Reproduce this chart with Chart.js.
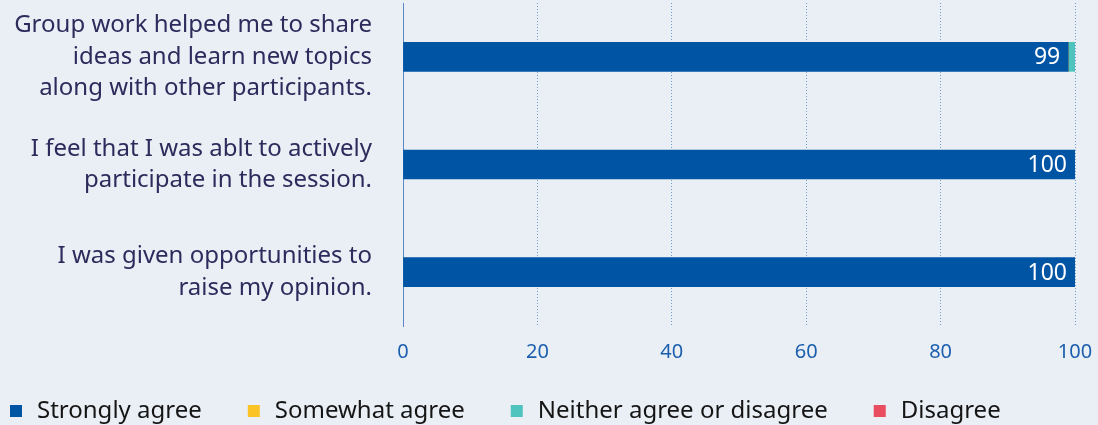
<!DOCTYPE html>
<html>
<head>
<meta charset="utf-8">
<script src="https://cdn.jsdelivr.net/npm/chart.js@4/dist/chart.umd.min.js"></script>
<style>
  html, body { margin: 0; padding: 0; background: #eaeff5; }
  #wrap { width: 1098px; height: 425px; }
</style>
</head>
<body>
<div id="wrap"><canvas id="surveyChart" width="1098" height="425"></canvas></div>
<script>
// Survey statements (one bar each)
const statements = [
    ['Group work helped me to share', 'ideas and learn new topics', 'along with other participants.'],
    ['I feel that I was ablt to actively', 'participate in the session.'],
    ['I was given opportunities to', 'raise my opinion.']
];

// Response shares in percent
const stronglyAgree = [99, 100, 100];
const somewhatAgree = [0, 0, 0];
const neitherAgree = [1, 0, 0];
const disagree = [0, 0, 0];

const xTicks = [0, 20, 40, 60, 80, 100];

// Writes the "Strongly agree" value at the right end of its bar
const barValueLabels = {
    id: 'barValueLabels',
    afterDatasetsDraw(chart) {
        const { ctx } = chart;
        const meta = chart.getDatasetMeta(0);
        ctx.save();
        ctx.font = '23px "Noto Sans"';
        ctx.fillStyle = '#ffffff';
        ctx.textAlign = 'right';
        ctx.textBaseline = 'middle';
        meta.data.forEach((bar, i) => {
            ctx.fillText(String(stronglyAgree[i]), bar.x - 8, bar.y + 1);
        });
        ctx.restore();
    }
};

// Simple legend row along the bottom edge, built from the datasets
const bottomLegend = {
    id: 'bottomLegend',
    afterDraw(chart) {
        const { ctx } = chart;
        let x = 10;
        const y = 411;
        ctx.save();
        ctx.font = '24px "Noto Sans"';
        ctx.textBaseline = 'middle';
        ctx.textAlign = 'left';
        chart.data.datasets.forEach(ds => {
            ctx.fillStyle = ds.backgroundColor;
            ctx.fillRect(x, y - 6, 12, 12);
            ctx.fillStyle = '#151515';
            ctx.fillText(ds.label, x + 27, y);
            x += 27 + ctx.measureText(ds.label).width + 46;
        });
        ctx.restore();
    }
};

const ctx = document.getElementById('surveyChart').getContext('2d');

new Chart(ctx, {
    type: 'bar',
    data: {
        labels: statements,
        datasets: [
            { label: 'Strongly agree', data: stronglyAgree, backgroundColor: '#0054a4' },
            { label: 'Somewhat agree', data: somewhatAgree, backgroundColor: '#fbc325' },
            { label: 'Neither agree or disagree', data: neitherAgree, backgroundColor: '#4fc3bd' },
            { label: 'Disagree', data: disagree, backgroundColor: '#ea4d5f' }
        ]
    },
    options: {
        indexAxis: 'y',
        responsive: false,
        animation: false,
        barThickness: 29,
        layout: { padding: { left: 10, right: 23, top: 3, bottom: 47 } },
        scales: {
            x: {
                stacked: true,
                min: 0,
                max: 100,
                afterBuildTicks(axis) {
                    axis.ticks = xTicks.map(v => ({ value: v }));
                },
                afterFit(axis) {
                    axis.paddingLeft = 0;
                    axis.paddingRight = 0;
                },
                grid: {
                    color: '#6f9bd0',
                    lineWidth: 1,
                    drawTicks: false
                },
                border: { display: false, dash: [1, 2] },
                ticks: {
                    color: '#1c5fae',
                    padding: 14,
                    font: { family: 'Noto Sans', size: 20 }
                }
            },
            y: {
                stacked: true,
                afterFit(axis) {
                    axis.width = 393;
                    axis.paddingTop = 0;
                    axis.paddingBottom = 0;
                },
                grid: { display: false, drawTicks: false },
                border: { display: true, color: '#5b88c4', width: 1 },
                ticks: {
                    autoSkip: false,
                    color: '#2b2b5c',
                    padding: 31,
                    font: { family: 'Noto Sans', size: 24, lineHeight: 1.3 }
                }
            }
        },
        plugins: {
            legend: { display: false },
            tooltip: { enabled: false }
        }
    },
    plugins: [barValueLabels, bottomLegend]
});
</script>
</body>
</html>
